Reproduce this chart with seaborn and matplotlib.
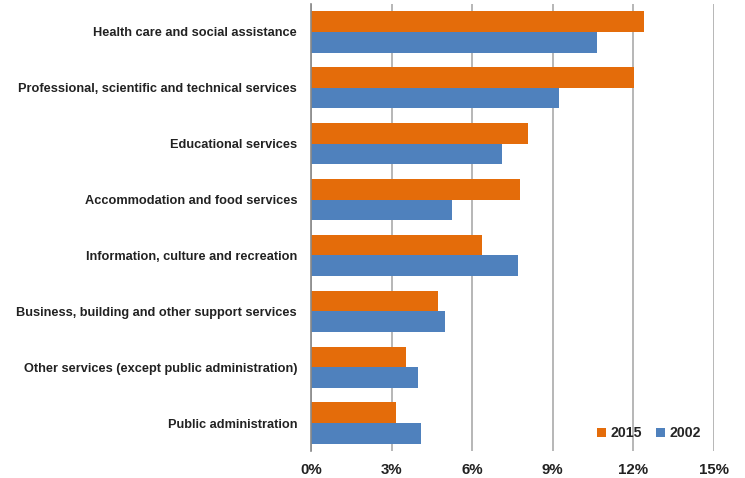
import matplotlib
matplotlib.use("Agg")
import matplotlib.pyplot as plt
import seaborn as sns
import pandas as pd

categories = [
    "Health care and social assistance",
    "Professional, scientific and technical services",
    "Educational services",
    "Accommodation and food services",
    "Information, culture and recreation",
    "Business, building and other support services",
    "Other services (except public administration)",
    "Public administration",
]
share_2015 = [12.41, 12.04, 8.07, 7.78, 6.35, 4.71, 3.52, 3.15]
share_2002 = [10.66, 9.24, 7.10, 5.25, 7.72, 4.97, 4.00, 4.08]
years = ["2015", "2002"]
year_colors = ["#E46C0A", "#4F81BD"]
x_ticks = [0, 3, 6, 9, 12, 15]

df = pd.DataFrame({
    "industry": categories * 2,
    "share": share_2015 + share_2002,
    "year": ["2015"] * len(categories) + ["2002"] * len(categories),
})

sns.set_theme(style="white")
plt.rcParams["font.family"] = ["Liberation Sans", "DejaVu Sans"]

fig = plt.figure(figsize=(7.45, 4.78), dpi=100)
ax = fig.add_axes([311 / 745, 1 - 451 / 478, (714 - 311) / 745, (451 - 4) / 478])

sns.barplot(data=df, x="share", y="industry", hue="year", order=categories,
            hue_order=years, palette=year_colors, orient="h", width=0.74,
            saturation=1, ax=ax, edgecolor="none")

ax.set_xlim(0, 15)
ax.set_xticks(x_ticks)
ax.set_xticklabels([f"{t}%" for t in x_ticks], fontsize=10.8, fontweight="bold", color="#222222")
ax.set_xlabel("")
ax.set_ylabel("")
ax.set_yticks(range(len(categories)))
ax.set_yticklabels(categories, fontsize=9.2, fontweight="bold", color="#222222")
ax.tick_params(axis="y", length=0, pad=10)
ax.tick_params(axis="x", length=0, pad=9)
ax.xaxis.grid(True, color="#AAAAAA", linewidth=1.2)
ax.set_axisbelow(True)
for side in ["top", "right", "bottom"]:
    ax.spines[side].set_visible(False)
ax.spines["left"].set_color("#888888")
ax.spines["left"].set_linewidth(1.2)

handles, labels = ax.get_legend_handles_labels()
ax.legend(handles, labels, loc="lower right", bbox_to_anchor=(1.0, -0.004), ncol=2,
          frameon=False, handlelength=0.6, handleheight=0.6, handletextpad=0.35,
          columnspacing=1.0, prop={"weight": "bold", "size": 10.2})

fig.savefig("out.png", dpi=100)
